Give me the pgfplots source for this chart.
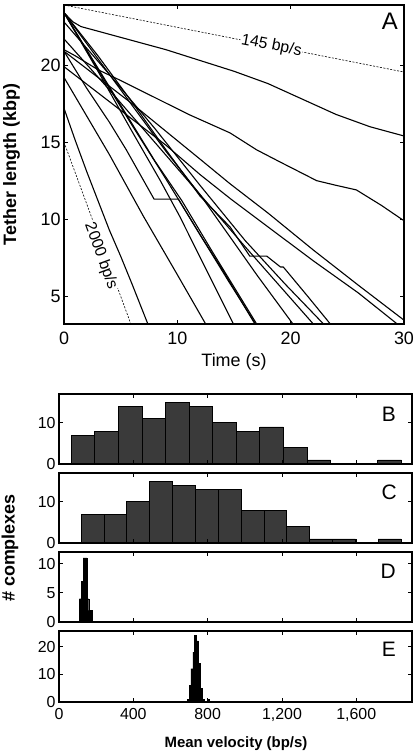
\documentclass[border=0pt]{standalone}
\usepackage{fontspec}
\setmainfont{Liberation Sans}
\usepackage{pgfplots}
\pgfplotsset{compat=1.18}
\definecolor{barfill}{RGB}{58,58,58}
\pgfplotsset{
  /pgf/number format/assume math mode=true,
  hist/.style={scale only axis, width=353bp, height=70bp, anchor=north west,
    xmin=0, xmax=1900, ymin=0, xtick={0,400,800,1200,1600}, xticklabels={},
    tick align=inside, major tick length=4bp, axis on top,
    axis line style={line width=1.1bp},
    every tick/.style={black,line width=0.8bp},
    ticklabel style={font=\fontsize{16}{16}\selectfont},
    xticklabel style={yshift=-3bp}},
  bars/.style={ybar interval, fill=barfill, draw=black, line width=0.7bp},
  sbars/.style={ybar interval, fill=black, draw=black, line width=0.3bp},
  trace/.style={black, line width=1.1bp, line join=round},
}
\begin{document}
\begin{tikzpicture}
\path[use as bounding box] (0bp,0bp) rectangle (415bp,-754bp);
% ---------------- Panel A
\begin{axis}[at={(64bp,-324bp)}, anchor=south west, scale only axis,
  width=340bp, height=319bp, xmin=0, xmax=30, ymin=3.2, ymax=23.9,
  xtick={0,10,20,30}, ytick={5,10,15,20}, tick align=inside,
  major tick length=4bp, axis line style={line width=1.3bp},
  every tick/.style={black,line width=0.8bp},
  ticklabel style={font=\fontsize{18}{18}\selectfont},
  xticklabel style={yshift=-4bp}, clip=true]
\addplot[black, line width=0.6bp, dash pattern=on 2bp off 1.5bp] coordinates {(0,23.9) (30,19.55)};
\addplot[black, line width=0.6bp, dash pattern=on 2bp off 1.5bp] coordinates {(0,15) (6,3)};
% traces
\addplot[trace] coordinates {(0,23.4)(0.8,22.8)(1.5,22.5)(3,22.2)(6,21.6)(9,21.0)(12,20.3)(15,19.6)(18,18.8)(21,17.8)(24,16.8)(27,16.0)(30,15.4)};
\addplot[trace] coordinates {(0,21.0)(1,20.6)(3,19.7)(5,19.0)(8,17.9)(11,16.8)(14.65,15.6)(17,14.5)(19.1,13.7)(22.3,12.5)(24,12.2)(25.8,11.9)(28,10.9)(30,9.9)};
\addplot[trace] coordinates {(0,20.9)(3,19.2)(6,17.5)(9,15.7)(12,13.9)(14.65,12.3)(18,10.4)(22,8.0)(26,5.7)(30,3.45)};
\addplot[trace] coordinates {(0,19.9)(3,18.2)(6,16.5)(9,14.8)(12,12.9)(14.65,11.35)(18,9.5)(22,7.3)(26,5.2)(29.4,3.2)};
\addplot[trace] coordinates {(0,17.2)(1,15.1)(2,13.1)(3,11.2)(4,9.3)(5,7.6)(6,5.8)(7.4,3.2)};
\addplot[trace] coordinates {(0,19.2)(2,16.7)(4,14.2)(7,10.2)(10,6.4)(12.5,3.2)};
\addplot[trace] coordinates {(0,23.4)(3,19.6)(6,15.7)(8.5,12.5)(10.2,10.2)(12.5,6.8)(14.95,3.2)};
\addplot[trace] coordinates {(0,20.9)(2,18.5)(4,16.3)(5.5,14.5)(7.95,11.3)(10.1,11.3)(12,9.0)(14,6.7)(16.85,3.2)};
\addplot[trace] coordinates {(0,23.4)(2,21.0)(4,18.6)(6,16.2)(8,13.8)(10.4,11.2)(13,8.0)(15,5.6)(17.0,3.2)};
\addplot[trace] coordinates {(0,23.4)(3,20.4)(6,17.4)(9,14.4)(12,11.6)(14.65,8.85)(17,6.4)(20.2,3.2)};
\addplot[trace] coordinates {(0,21.7)(4,18.4)(8,15.0)(12,11.6)(16,8.2)(19,5.7)(22,3.2)};
\addplot[trace] coordinates {(0,22.8)(4,19.4)(8,15.9)(12,12.2)(16,8.6)(19.5,5.8)(22.9,3.2)};
\addplot[trace] coordinates {(0,23.4)(3,20.6)(6,17.6)(9,14.5)(12,11.5)(14.65,9.5)(16.4,7.6)(17.9,7.6)(19.1,6.9)(19.35,6.9)(21.5,5.0)(23.5,3.2)};
\addplot[trace] coordinates {(0,23.4)(3,19.7)(6,16.1)(9,12.6)(12,9.0)(14.5,6.0)(16.9,3.2)};
\node[fill=white, rotate=-11, inner sep=1bp, font=\fontsize{16}{16}\selectfont] at (axis cs:18.3,21.25) {145 bp/s};
\node[fill=white, rotate=-70, inner sep=0.5bp, font=\fontsize{16}{16}\selectfont] at (axis cs:3.25,7.6) {2000 bp/s};
\end{axis}
\node[anchor=north east, inner sep=0pt, font=\fontsize{24}{24}\selectfont] at (398bp,-13bp) {A};
\node[rotate=90, font=\bfseries\fontsize{18}{18}\selectfont] at (11.5bp,-164.5bp) {Tether length (kbp)};
\node[font=\fontsize{18}{18}\selectfont] at (234bp,-361.5bp) {Time (s)};
% ---------------- Panel B
\begin{axis}[hist, at={(59bp,-394bp)}, ymax=17, ytick={0,10}]
\addplot[bars] coordinates {(65,7)(192,8)(319,14)(446,11)(573,15)(700,14)(827,10)(954,8)(1081,9)(1208,4)(1335,1)(1462,0)(1589,0)(1716,1)(1843,0)};
\end{axis}
% ---------------- Panel C
\begin{axis}[hist, at={(59bp,-473bp)}, ymax=17, ytick={0,10}]
\addplot[bars] coordinates {(119,7)(242,7)(365,10)(488,15)(611,14)(734,13)(857,13)(980,8)(1103,8)(1226,4)(1349,1)(1472,1)(1595,0)(1718,1)(1841,0)};
\end{axis}
% ---------------- Panel D
\begin{axis}[hist, at={(59bp,-552bp)}, ymax=12, ytick={0,5,10}]
\addplot[sbars] coordinates {(110,4)(120,7)(130,11)(140,11)(150,4)(160,2)(170,2)(180,0)};
\end{axis}
% ---------------- Panel E
\begin{axis}[hist, at={(59bp,-631bp)}, height=71bp, ymax=25.6, ytick={0,10,20},
  xticklabels={0,400,800,{1,200},{1,600}}]
\addplot[sbars] coordinates {(690,1)(700,6)(710,12)(720,18)(730,24)(740,22)(750,14)(760,5)(770,1)(780,0)(790,0)(800,1)(810,0)};
\end{axis}
\node[anchor=north east, inner sep=0pt, font=\fontsize{21}{21}\selectfont] at (396bp,-407bp) {B};
\node[anchor=north east, inner sep=0pt, font=\fontsize{21}{21}\selectfont] at (397bp,-485bp) {C};
\node[anchor=north east, inner sep=0pt, font=\fontsize{21}{21}\selectfont] at (396bp,-564bp) {D};
\node[anchor=north east, inner sep=0pt, font=\fontsize{21}{21}\selectfont] at (396bp,-642bp) {E};
\node[rotate=90, font=\bfseries\fontsize{18}{18}\selectfont] at (10bp,-548bp) {\# complexes};
\node[font=\bfseries\fontsize{15}{15}\selectfont] at (236bp,-744bp) {Mean velocity (bp/s)};
\end{tikzpicture}
\end{document}
